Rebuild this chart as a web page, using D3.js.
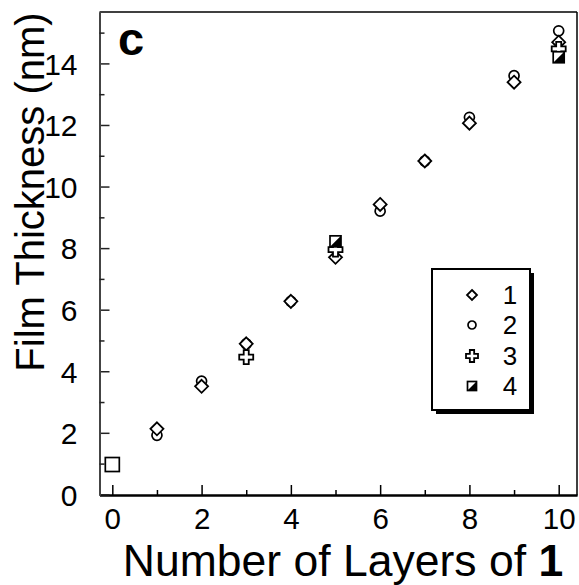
<!DOCTYPE html>
<html><head><meta charset="utf-8">
<script src="https://cdn.jsdelivr.net/npm/d3@7"></script>
<style>body{margin:0;background:#fff}svg{display:block}</style>
</head><body>
<script>
// Data
const layers = [0,1,2,3,4,5,6,7,8,9,10];
const substrate = [{x:0, y:0.97}];
const series1 = [null,2.13,3.51,4.89,6.27,7.70,9.42,10.83,12.06,13.39,14.69]; // diamond
const series2 = [null,1.92,3.68,4.89,6.27,null,9.20,10.83,12.25,13.60,15.06]; // circle
const series3 = [null,null,null,4.46,null,7.95,null,null,null,null,14.47]; // cross
const series4 = [null,null,null,null,null,8.22,null,null,null,null,14.20]; // half-filled square
const legendLabels = ["1","2","3","4"];
const xTicks = [0,2,4,6,8,10];
const yTicks = [0,2,4,6,8,10,12,14];
const xMinor = [1,3,5,7,9];
const yMinor = [1,3,5,7,9,11,13,15];

const W=579,H=585;
const L=99.5,R=577,T=12,B=495;
const font='"Liberation Sans", Arial, sans-serif';
const svg=d3.select("body").append("svg").attr("width",W).attr("height",H);
const x=d3.scaleLinear().domain([-0.287,10.41]).range([L,R]);
const y=d3.scaleLinear().domain([-0.02,15.67]).range([B,T]);

// frame
svg.append("line").attr("x1",L).attr("x2",R).attr("y1",T).attr("y2",T).attr("stroke","#000").attr("stroke-width",1.5);
svg.append("line").attr("x1",R).attr("x2",R).attr("y1",T).attr("y2",B).attr("stroke","#000").attr("stroke-width",1.5);

// axes
const gx=svg.append("g").attr("transform",`translate(0,${B})`)
  .call(d3.axisBottom(x).tickValues(xTicks).tickSizeInner(-10).tickSizeOuter(0).tickPadding(16).tickFormat(d3.format("d")));
const gxm=svg.append("g").attr("transform",`translate(0,${B})`)
  .call(d3.axisBottom(x).tickValues(xMinor).tickSizeInner(-5).tickSizeOuter(0).tickFormat(""));
const gy=svg.append("g").attr("transform",`translate(${L},0)`)
  .call(d3.axisLeft(y).tickValues(yTicks).tickSizeInner(-10).tickSizeOuter(0).tickPadding(22).tickFormat(d3.format("d")));
const gym=svg.append("g").attr("transform",`translate(${L},0)`)
  .call(d3.axisLeft(y).tickValues(yMinor).tickSizeInner(-5).tickSizeOuter(0).tickFormat(""));
[gx,gxm].forEach(g=>{g.select(".domain").attr("stroke","#000").attr("stroke-width",2);g.selectAll(".tick line").attr("stroke","#000").attr("stroke-width",1.5);});
[gy,gym].forEach(g=>{g.select(".domain").attr("stroke","#444").attr("stroke-width",2);g.selectAll(".tick line").attr("stroke","#222").attr("stroke-width",1.5);});
gx.selectAll(".tick text").attr("font-family",font).attr("font-size",29.5).attr("fill","#000").attr("dy",0).attr("y",34);
gy.selectAll(".tick text").attr("font-family",font).attr("font-size",30).attr("fill","#000").attr("dy","0.36em");

// axis titles
svg.append("text").attr("transform",`translate(${44},${192}) rotate(-90)`)
  .attr("text-anchor","middle").attr("font-family",font).attr("font-size",40).text("Film Thickness (nm)");
const xt=svg.append("text").attr("x",343).attr("y",576).attr("text-anchor","middle").attr("font-family",font).attr("font-size",44.5);
xt.append("tspan").text("Number of Layers of ");
xt.append("tspan").attr("font-weight","bold").text("1");

// panel label
svg.append("text").attr("x",118).attr("y",55).attr("font-family",font).attr("font-weight","bold").attr("font-size",47).text("c");

// symbol drawers
function diamond(g,s){g.append("path").attr("d",`M0,${-s}L${s},0L0,${s}L${-s},0Z`).attr("fill","#fff").attr("stroke","#000").attr("stroke-width",1.8);}
function circle(g,r){g.append("circle").attr("r",r).attr("fill","#fff").attr("stroke","#000").attr("stroke-width",1.7);}
function cross(g,s){const a=s, b=s*0.36;
  g.append("path").attr("d",`M${-b},${-a}H${b}V${-b}H${a}V${b}H${b}V${a}H${-b}V${b}H${-a}V${-b}H${-b}Z`).attr("fill","#fff").attr("stroke","#000").attr("stroke-width",1.8);}
function halfsq(g,s){g.append("rect").attr("x",-s).attr("y",-s).attr("width",2*s).attr("height",2*s).attr("fill","#fff").attr("stroke","#000").attr("stroke-width",1.7);
  g.append("path").attr("d",`M${s},${-s}L${s},${s}L${-s},${s}Z`).attr("fill","#000");}
function bigsq(g,s){g.append("rect").attr("x",-s).attr("y",-s).attr("width",2*s).attr("height",2*s).attr("fill","#fff").attr("stroke","#000").attr("stroke-width",1.7);}

function plot(arr,fn,size){
  layers.forEach((l,i)=>{const v=arr[i]; if(v==null) return;
    const g=svg.append("g").attr("transform",`translate(${x(l)},${y(v)})`); fn(g,size);});
}
substrate.forEach(d=>{const g=svg.append("g").attr("transform",`translate(${x(d.x)},${y(d.y)})`); bigsq(g,7);});
plot(series2,circle,5);
plot(series1,diamond,6.5);
plot(series3,cross,7);
plot(series4,halfsq,5.5);

// legend
const lg=svg.append("g");
lg.append("rect").attr("x",436).attr("y",273).attr("width",98).attr("height",141).attr("fill","#000");
lg.append("rect").attr("x",432).attr("y",269).attr("width",98).attr("height",141).attr("fill","#fff").attr("stroke","#000").attr("stroke-width",2);
const legFns=[[diamond,5],[circle,4],[cross,6],[halfsq,4.5]];
const rowY=[295,325,356,386];
legendLabels.forEach((lab,i)=>{
  const g=lg.append("g").attr("transform",`translate(472,${rowY[i]})`); legFns[i][0](g,legFns[i][1]);
  lg.append("text").attr("x",510).attr("y",rowY[i]).attr("dy","0.36em").attr("text-anchor","middle")
    .attr("font-family",font).attr("font-size",26).text(lab);
});
</script>
</body></html>
